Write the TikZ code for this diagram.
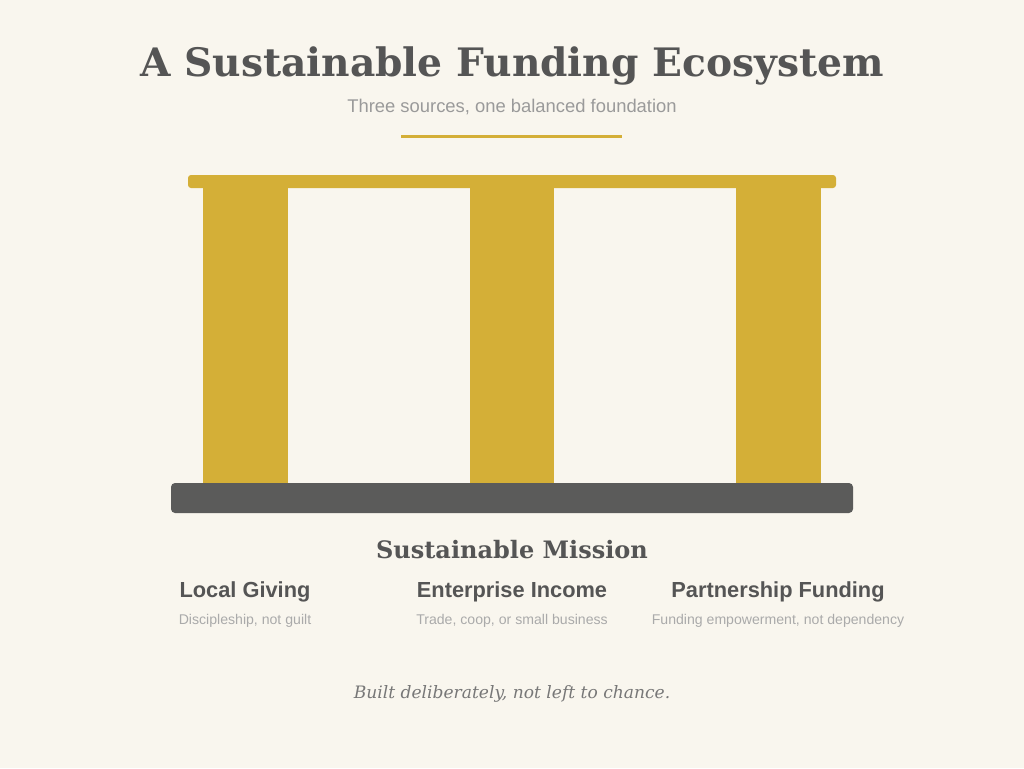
\documentclass[tikz,border=0pt]{standalone}
\usepackage{fontspec}
\setmainfont{DejaVu Serif}
\newfontfamily\sansf{Liberation Sans}
\definecolor{bgc}{HTML}{F9F6EE}
\definecolor{gold}{HTML}{D4AF37}
\definecolor{basec}{HTML}{5B5B5A}
\definecolor{darktxt}{HTML}{555555}
\definecolor{greytxt}{HTML}{9A9A9A}
\definecolor{lighttxt}{HTML}{AAAAAA}
\definecolor{foottxt}{HTML}{777777}
\tikzset{
  pillar/.style={fill=gold, draw=none},
  lbl/.style={anchor=base, inner sep=0pt, text=darktxt, font=\sansf\bfseries\fontsize{21.8}{26}\selectfont},
  sublbl/.style={anchor=base, inner sep=0pt, text=lighttxt, font=\sansf\fontsize{14.1}{17}\selectfont},
}
\begin{document}
\begin{tikzpicture}[x=1pt,y=-1pt]
\fill[bgc] (0,0) rectangle (1024,768);
\useasboundingbox (0,0) rectangle (1024,768);
% title
\node[anchor=base, inner sep=0pt, text=darktxt, font=\bfseries\fontsize{39.2}{44}\selectfont] (title) at (512,77) {A Sustainable Funding Ecosystem};
\node[anchor=base, inner sep=0pt, text=greytxt, font=\sansf\fontsize{18.4}{22}\selectfont] (sub) at (512,112) {Three sources, one balanced foundation};
\draw[gold, line width=3pt] (401,136) -- (622,136);
% structure
\fill[gold, rounded corners=3pt] (188,175) rectangle (836,188);
\fill[pillar] (203,186) rectangle (288,484);
\fill[pillar] (470,186) rectangle (554,484);
\fill[pillar] (736,186) rectangle (821,484);
\fill[basec, rounded corners=4pt] (171,483) rectangle (853,513);
% labels
\node[anchor=base, inner sep=0pt, text=darktxt, font=\bfseries\fontsize{24}{28}\selectfont] (mission) at (512,558) {Sustainable Mission};
\node[lbl] (l1) at (245,597) {Local Giving};
\node[lbl] (l2) at (512,597) {Enterprise Income};
\node[lbl] (l3) at (778,597) {Partnership Funding};
\node[sublbl] (s1) at (245,624) {Discipleship, not guilt};
\node[sublbl] (s2) at (512,624) {Trade, coop, or small business};
\node[sublbl] (s3) at (778,624) {Funding empowerment, not dependency};
\node[anchor=base, inner sep=0pt, text=foottxt, font=\itshape\fontsize{17.1}{20}\selectfont] (foot) at (512,698) {Built deliberately, not left to chance.};
\end{tikzpicture}
\end{document}
